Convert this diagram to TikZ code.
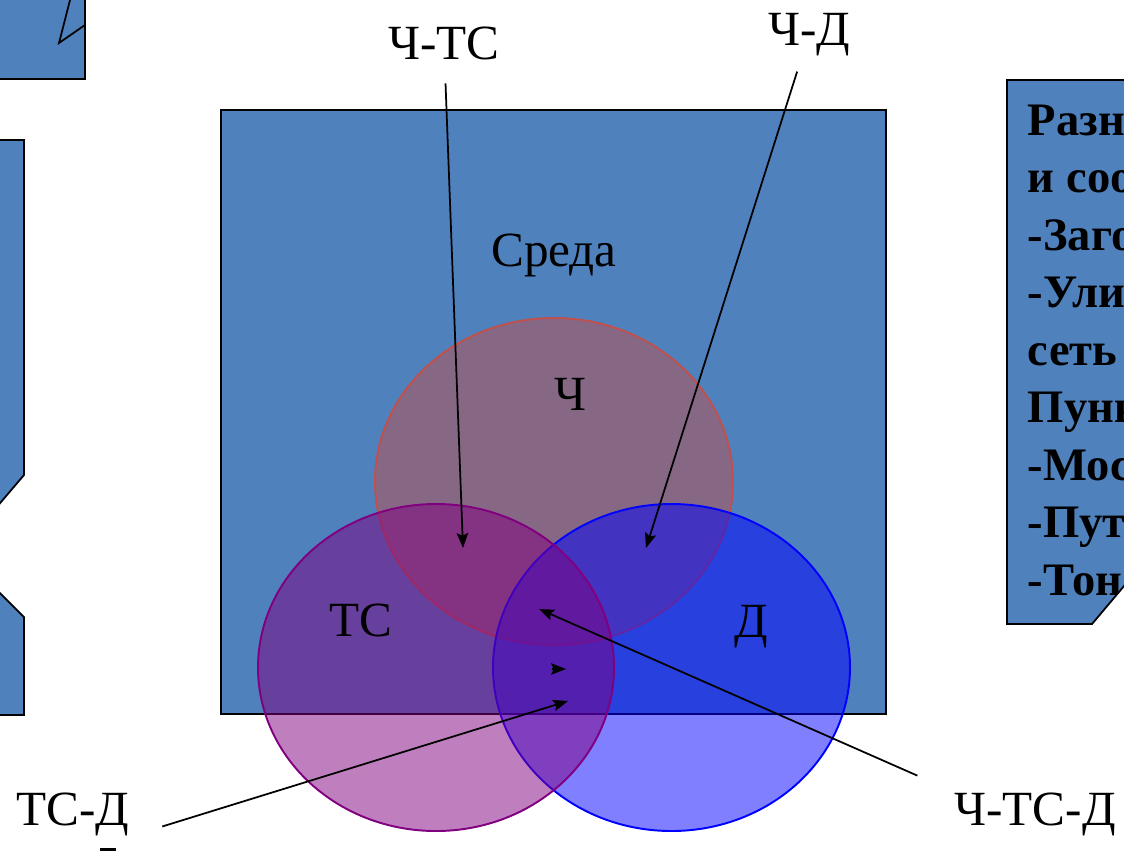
\documentclass[tikz,border=0pt]{standalone}
\usepackage{fontspec}
\setmainfont{Liberation Serif}
\usetikzlibrary{arrows.meta}
\definecolor{sreda}{RGB}{79,129,189}
\definecolor{chel}{RGB}{192,80,77}
\begin{document}
\begin{tikzpicture}[x=0.02cm, y=-0.02cm, >={Stealth[length=8.5pt, width=6.5pt, inset=1.5pt]}, line width=1pt,
		lbl/.style={font=\fontsize{28}{33}\selectfont, inner sep=0pt, anchor=base},
		krug/.style={line width=1.1pt, fill opacity=0.5}]
	\useasboundingbox (0,0) rectangle (1124,853);
	\begin{scope}
		\clip (0,0) rectangle (1124,853);
		% 1. 边缘图形 (被截断)
		\filldraw[fill=sreda] (-10,-10) rectangle (85,79);
		\draw (72.6,-10) -- (59,43) -- (85,25);
		\filldraw[fill=sreda] (-10,140) -- (24,140) -- (24,475) -- (-10,515) -- (-10,583) -- (24,617) -- (24,715) -- (-10,715);
		\filldraw[fill=sreda] (1007,80) -- (1140,80) -- (1140,567) -- (1092,624) -- (1007,624) -- cycle;
		\begin{scope}
			\clip (1007,80) -- (1140,80) -- (1140,567) -- (1092,624) -- (1007,624) -- cycle;
			\node[font=\fontsize{26.5}{32.7}\selectfont\bfseries, inner sep=0pt, align=left, anchor=base west] (spisok) at (1027,595)
				{Разн\\и соо\\-Заго\\-Ули\\сеть\\Пунк\\-Мос\\-Пут\\-Тон};
		\end{scope}
		
		% 2. 环境 (底层)
		\filldraw[fill=sreda] (221,110) rectangle (886,714);
		\node[lbl] (lSreda) at (554,266) {Среда};
		
		% 3. 三个椭圆
		\filldraw[krug, fill=chel, draw=chel] (554,481.5) ellipse (179 and 163.5);
		\filldraw[krug, fill=blue, draw=blue] (671.5,667.5) ellipse (178.5 and 163.5);
		\filldraw[krug, fill=violet, draw=violet] (436,667.5) ellipse (178 and 163.5);
		
		% 4. 标号
		\node[lbl] (lC) at (570,410) {Ч};
		\node[lbl] (lTS) at (361,636) {ТС};
		\node[lbl] (lD) at (751,637) {Д};
		\node[lbl] (lCTS) at (444,59) {Ч-ТС};
		\node[lbl] (lCD) at (809,45) {Ч-Д};
		\node[lbl] (lTSD) at (73,825) {ТС-Д};
		\node[lbl] (lCTSD) at (1035,825) {Ч-ТС-Д};
		\draw[line width=1.2pt] (100,849.5) -- (116,849.5);
		
		% 5. 箭头
		\coordinate (pCTS) at (463,548);
		\coordinate (pCD) at (646,548);
		\coordinate (pCTSD) at (539,609);
		\coordinate (pTSD) at (568,701);
		\coordinate (tipA) at (552,669);
		\coordinate (tipB) at (566,669);
		\draw[->, shorten <=0.46cm] (lCTS) -- (pCTS);
		\draw[->, shorten <=0.32cm] (lCD) -- (pCD);
		\draw[->, shorten <=0.79cm] (lCTSD.north west) -- (pCTSD);
		\draw[->, shorten <=0.67cm] (lTSD.south east) -- (pTSD);
		\draw[->] (tipA) -- (tipB);
	\end{scope}
\end{tikzpicture}
\end{document}
